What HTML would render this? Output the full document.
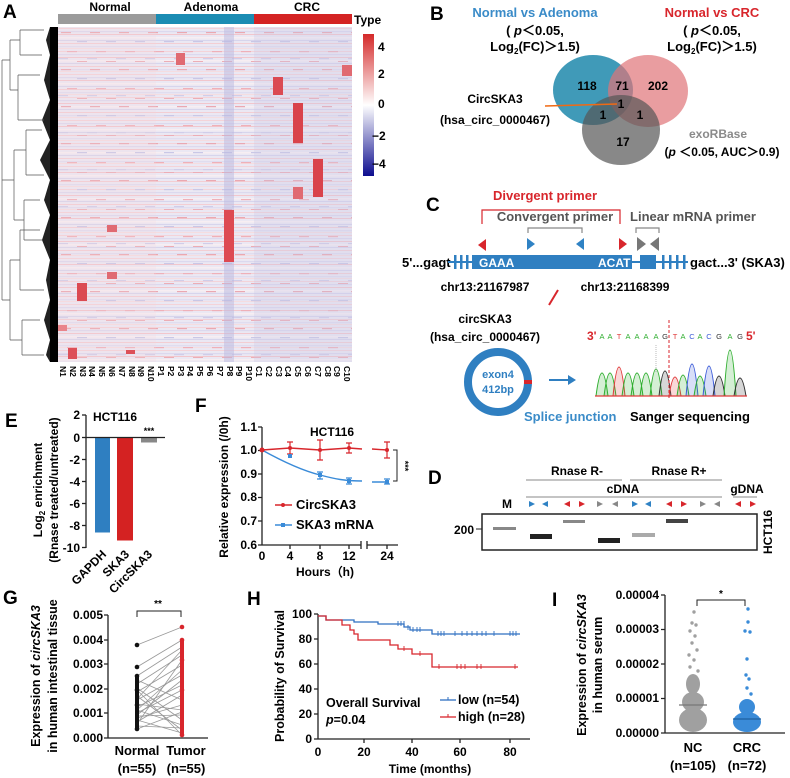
<!DOCTYPE html>
<html><head><meta charset="utf-8"><style>
body{margin:0;background:#fff}
svg{display:block;font-family:"Liberation Sans",Arial,sans-serif;font-weight:bold}
</style></head><body>
<svg width="790" height="778" viewBox="0 0 790 778" xmlns="http://www.w3.org/2000/svg">
<defs>
<pattern id="st1" width="294" height="23" patternUnits="userSpaceOnUse" x="58" y="27">
<rect width="294" height="23" fill="#ebe8f3"/>
<rect y="1" width="294" height="1" fill="#f4d3d8"/>
<rect y="4" width="294" height="1.2" fill="#dcd9ee"/>
<rect y="7" width="294" height="1" fill="#f2c6cc"/>
<rect y="10" width="294" height="1.5" fill="#f7eef2"/>
<rect y="13" width="294" height="1" fill="#d7d5ec"/>
<rect y="16" width="294" height="1" fill="#f3ced3"/>
<rect y="19" width="294" height="1.3" fill="#e0ddef"/>
<rect y="21" width="294" height="1" fill="#f5dde0"/>
</pattern>
<pattern id="st2" width="29" height="37" patternUnits="userSpaceOnUse" x="58" y="27">
<rect x="3" y="5" width="10" height="1.2" fill="#eaa8b1"/>
<rect x="19" y="14" width="10" height="1.2" fill="#c9c7e6"/>
<rect x="9" y="24" width="10" height="1.2" fill="#efb0b8"/>
<rect x="0" y="31" width="10" height="1.2" fill="#d0cde9"/>
<rect x="19" y="34" width="10" height="1" fill="#ecadb5"/>
</pattern>
</defs>

<!-- A heatmap -->
<text x="3" y="18" font-size="19">A</text>
<rect x="58" y="14" width="98" height="10" fill="#9b9b9b"/>
<rect x="156" y="14" width="98" height="10" fill="#1b8cb3"/>
<rect x="254" y="14" width="98" height="10" fill="#d42323"/>
<text x="110" y="11" font-size="12" text-anchor="middle">Normal</text>
<text x="211" y="11" font-size="12" text-anchor="middle">Adenoma</text>
<text x="307" y="11" font-size="12" text-anchor="middle">CRC</text>
<text x="354" y="24" font-size="12">Type</text>
<rect x="58" y="27" width="294" height="335" fill="url(#st1)"/>
<rect x="58" y="27" width="294" height="335" fill="url(#st2)"/>
<rect x="58" y="27" width="98" height="335" fill="#f4d6da" opacity="0.2"/>
<rect x="254" y="27" width="98" height="335" fill="#c9c6e6" opacity="0.3"/>
<rect x="224" y="27" width="10" height="335" fill="#b9b7df" opacity="0.5"/>
<rect x="224" y="210" width="10" height="52" fill="#dd4a52"/>
<rect x="176" y="53" width="9" height="12" fill="#e06a72"/>
<rect x="273" y="77" width="10" height="18" fill="#db4a52"/>
<rect x="293" y="103" width="10" height="40" fill="#d9434b"/>
<rect x="313" y="159" width="10" height="38" fill="#d9434b"/>
<rect x="293" y="187" width="10" height="12" fill="#e06a72"/>
<rect x="77" y="283" width="10" height="18" fill="#db4a52"/>
<rect x="107" y="272" width="10" height="7" fill="#e06a72"/>
<rect x="107" y="225" width="10" height="7" fill="#e06a72"/>
<rect x="342" y="65" width="10" height="11" fill="#e06a72"/>
<rect x="68" y="348" width="9" height="11" fill="#dd5058"/>
<rect x="58" y="325" width="9" height="6" fill="#e9848b"/>
<rect x="126" y="350" width="9" height="4" fill="#dd5058"/>
<!-- dendrogram -->
<rect x="50" y="27" width="8" height="335" fill="#000"/>
<path d="M50 27 L46 40 L50 55 L44 80 L50 100 L42 120 L50 140 L40 160 L50 180 L44 200 L50 215 L42 240 L50 260 L46 280 L50 300 L44 320 L50 340 L46 355 L50 362 Z" fill="#222"/>
<g stroke="#555" stroke-width="0.7" fill="none">
<path d="M2 60 V300 M2 60 H10 M2 300 H10 M10 40 V90 M10 40 H20 M10 90 H18 M10 260 V340 M10 260 H20 M10 340 H22 M20 30 V55 M18 75 V120 M20 230 V290 M22 320 V355 M14 150 V220 M2 180 H14 M14 150 H26 M14 220 H24 M26 130 V175 M24 200 V240"/>
<path d="M20 30 H44 M20 55 H42 M18 75 H40 M18 120 H44 M20 230 H40 M20 290 H44 M22 320 H40 M22 355 H44 M26 130 H42 M26 175 H44 M24 200 H40 M24 240 H42"/>
</g>
<g font-size="8.5" font-weight="bold">
<text transform="translate(60,366) rotate(90)">N1</text><text transform="translate(70,366) rotate(90)">N2</text><text transform="translate(80,366) rotate(90)">N3</text><text transform="translate(89,366) rotate(90)">N4</text><text transform="translate(99,366) rotate(90)">N5</text><text transform="translate(109,366) rotate(90)">N6</text><text transform="translate(119,366) rotate(90)">N7</text><text transform="translate(129,366) rotate(90)">N8</text><text transform="translate(138,366) rotate(90)">N9</text><text transform="translate(148,366) rotate(90)">N10</text>
<text transform="translate(158,366) rotate(90)">P1</text><text transform="translate(168,366) rotate(90)">P2</text><text transform="translate(178,366) rotate(90)">P3</text><text transform="translate(187,366) rotate(90)">P4</text><text transform="translate(197,366) rotate(90)">P5</text><text transform="translate(207,366) rotate(90)">P6</text><text transform="translate(217,366) rotate(90)">P7</text><text transform="translate(227,366) rotate(90)">P8</text><text transform="translate(236,366) rotate(90)">P9</text><text transform="translate(246,366) rotate(90)">P10</text>
<text transform="translate(256,366) rotate(90)">C1</text><text transform="translate(266,366) rotate(90)">C2</text><text transform="translate(276,366) rotate(90)">C3</text><text transform="translate(285,366) rotate(90)">C4</text><text transform="translate(295,366) rotate(90)">C5</text><text transform="translate(305,366) rotate(90)">C6</text><text transform="translate(315,366) rotate(90)">C7</text><text transform="translate(325,366) rotate(90)">C8</text><text transform="translate(334,366) rotate(90)">C9</text><text transform="translate(344,366) rotate(90)">C10</text>
</g>
<defs><linearGradient id="cb" x1="0" y1="0" x2="0" y2="1"><stop offset="0" stop-color="#d42a2a"/><stop offset="0.5" stop-color="#ffffff"/><stop offset="1" stop-color="#0d0d8f"/></linearGradient></defs>
<rect x="363" y="34" width="11" height="142" fill="url(#cb)"/>
<g font-size="12"><text x="378" y="51">4</text><text x="378" y="78">2</text><text x="378" y="108">0</text><text x="372" y="140">−2</text><text x="372" y="168">−4</text></g>

<!-- B venn -->
<text x="430" y="20" font-size="19">B</text>
<g font-size="13" text-anchor="middle">
<text x="535" y="17" fill="#3a8bc8">Normal vs Adenoma</text>
<text x="535" y="35">( <tspan font-style="italic">p</tspan>＜0.05,</text>
<text x="535" y="51">Log<tspan font-size="8" dy="3">2</tspan><tspan dy="-3">(FC)＞1.5)</tspan></text>
<text x="712" y="17" fill="#d8262c">Normal vs CRC</text>
<text x="712" y="35">( <tspan font-style="italic">p</tspan>＜0.05,</text>
<text x="712" y="51">Log<tspan font-size="8" dy="3">2</tspan><tspan dy="-3">(FC)＞1.5)</tspan></text>
</g>
<ellipse cx="593" cy="90" rx="40" ry="35" fill="#2b8fb0" opacity="0.9"/>
<ellipse cx="648" cy="91" rx="40" ry="36" fill="#e07378" opacity="0.7"/>
<ellipse cx="621" cy="130" rx="39" ry="35" fill="#555" opacity="0.7"/>
<g font-size="12" text-anchor="middle">
<text x="587" y="90">118</text><text x="622" y="90">71</text><text x="658" y="90">202</text>
<text x="621" y="108">1</text><text x="603" y="119">1</text><text x="640" y="119">1</text><text x="623" y="146">17</text>
<text x="495" y="103">CircSKA3</text><text x="495" y="124">(hsa_circ_0000467)</text>
<text x="718" y="138" fill="#8a8a8a">exoRBase</text>
<text x="722" y="156">(<tspan font-style="italic">p</tspan> ＜0.05, AUC＞0.9)</text>
</g>
<line x1="545" y1="106" x2="617" y2="104" stroke="#f06a14" stroke-width="1.5"/>

<!-- C -->
<text x="426" y="211" font-size="19">C</text>
<text x="545" y="200" font-size="13" fill="#d8262c" text-anchor="middle">Divergent primer</text>
<path d="M482 224 V210 H620 V224" stroke="#d8262c" fill="none" stroke-width="1.2"/>
<text x="555" y="221" font-size="13" fill="#555" text-anchor="middle">Convergent primer</text>
<text x="693" y="221" font-size="13" fill="#555" text-anchor="middle">Linear mRNA primer</text>
<path d="M528 233 V228 H582 V233 M636 233 V228 H659 V233" stroke="#888" fill="none" stroke-width="1.2"/>
<polygon points="478,245 486,239 486,251" fill="#d8262c"/>
<polygon points="527,238 535,244 527,250" fill="#2f82c4"/>
<polygon points="584,238 576,244 584,250" fill="#2f82c4"/>
<polygon points="619,238 627,244 619,250" fill="#d8262c"/>
<polygon points="637,237 646,244 637,251" fill="#777"/>
<polygon points="659,237 650,244 659,251" fill="#777"/>
<text x="402" y="267" font-size="13">5'...gagt</text>
<line x1="448" y1="262" x2="688" y2="262" stroke="#2f7fc1" stroke-width="2"/>
<g fill="#2f7fc1"><rect x="454" y="255" width="2.5" height="14"/><rect x="460" y="255" width="2.5" height="14"/><rect x="466" y="255" width="2.5" height="14"/>
<rect x="472" y="255" width="160" height="14"/><rect x="640" y="255" width="16" height="14"/>
<rect x="662" y="255" width="2.5" height="14"/><rect x="669" y="255" width="2.5" height="14"/><rect x="676" y="255" width="2.5" height="14"/><rect x="683" y="255" width="2.5" height="14"/></g>
<text x="479" y="267" font-size="12" fill="#fff">GAAA</text><text x="598" y="267" font-size="12" fill="#fff">ACAT</text>
<text x="690" y="267" font-size="13">gact...3' (SKA3)</text>
<text x="485" y="291" font-size="12" text-anchor="middle">chr13:21167987</text>
<text x="625" y="291" font-size="12" text-anchor="middle">chr13:21168399</text>
<line x1="558" y1="290" x2="549" y2="305" stroke="#d8262c" stroke-width="2"/>
<text x="485" y="323" font-size="12" text-anchor="middle">circSKA3</text>
<text x="485" y="341" font-size="12" text-anchor="middle">(hsa_circ_0000467)</text>
<text x="587" y="340" font-size="12" fill="#d8262c">3'</text>
<g font-size="7.5" font-weight="normal" text-anchor="middle">
<text x="602" y="339" fill="#2fae2f">A</text><text x="610" y="339" fill="#2fae2f">A</text><text x="619" y="339" fill="#e03a3a">T</text><text x="628" y="339" fill="#2fae2f">A</text><text x="637" y="339" fill="#2fae2f">A</text><text x="646" y="339" fill="#2fae2f">A</text><text x="656" y="339" fill="#2fae2f">A</text><text x="665" y="339" fill="#333">G</text><text x="675" y="339" fill="#e03a3a">T</text><text x="683" y="339" fill="#2fae2f">A</text><text x="692" y="339" fill="#3a5ad8">C</text><text x="700" y="339" fill="#2fae2f">A</text><text x="709" y="339" fill="#3a5ad8">C</text><text x="719" y="339" fill="#333">G</text><text x="730" y="339" fill="#2fae2f">A</text><text x="740" y="339" fill="#333">G</text></g>
<text x="746" y="340" font-size="12" fill="#d8262c">5'</text>
<circle cx="498" cy="382" r="30" fill="none" stroke="#2f7fc1" stroke-width="8"/>
<rect x="524" y="380" width="8" height="4" fill="#d8262c"/>
<text x="498" y="378" font-size="11" fill="#2f7fc1" text-anchor="middle">exon4</text>
<text x="498" y="393" font-size="11" fill="#2f7fc1" text-anchor="middle">412bp</text>
<line x1="549" y1="380" x2="570" y2="380" stroke="#2f7fc1" stroke-width="2"/><polygon points="576,380 568,375 568,385" fill="#2f7fc1"/>
<g stroke-width="1" fill-opacity="0.2">
<path d="M596 396 Q602 350 608 396" stroke="#2fae2f" fill="#2fae2f"/><path d="M604 396 Q610 350 616 396" stroke="#2fae2f" fill="#2fae2f"/><path d="M613 396 Q619 338 625 396" stroke="#e03a3a" fill="#e03a3a"/><path d="M622 396 Q628 350 634 396" stroke="#2fae2f" fill="#2fae2f"/><path d="M631 396 Q637 350 643 396" stroke="#2fae2f" fill="#2fae2f"/><path d="M640 396 Q646 350 652 396" stroke="#2fae2f" fill="#2fae2f"/><path d="M650 396 Q656 342 662 396" stroke="#2fae2f" fill="#2fae2f"/><path d="M659 396 Q665 346 671 396" stroke="#333" fill="#333"/><path d="M669 396 Q675 358 681 396" stroke="#e03a3a" fill="#e03a3a"/><path d="M677 396 Q683 354 689 396" stroke="#2fae2f" fill="#2fae2f"/><path d="M686 396 Q692 332 698 396" stroke="#3a5ad8" fill="#3a5ad8"/><path d="M694 396 Q700 356 706 396" stroke="#2fae2f" fill="#2fae2f"/><path d="M703 396 Q709 336 715 396" stroke="#3a5ad8" fill="#3a5ad8"/><path d="M713 396 Q719 356 725 396" stroke="#333" fill="#333"/><path d="M724 396 Q730 304 736 396" stroke="#2fae2f" fill="#2fae2f"/><path d="M734 396 Q740 360 746 396" stroke="#333" fill="#333"/></g>
<line x1="595" y1="396" x2="747" y2="396" stroke="#e03a3a" stroke-width="1.2"/>
<line x1="669" y1="320" x2="669" y2="400" stroke="#d8262c" stroke-width="1" stroke-dasharray="3,2"/>
<line x1="656" y1="345" x2="656" y2="372" stroke="#aaa" stroke-width="0.8" stroke-dasharray="1,1"/>
<text x="524" y="421" font-size="13" fill="#3a8bc8">Splice junction</text>
<text x="630" y="421" font-size="13">Sanger sequencing</text>

<!-- D gel -->
<text x="428" y="484" font-size="19">D</text>
<g font-size="12" text-anchor="middle">
<text x="577" y="475">Rnase R-</text><text x="679" y="475">Rnase R+</text>
<text x="623" y="493">cDNA</text><text x="747" y="493">gDNA</text><text x="507" y="508">M</text></g>
<g stroke="#888" stroke-width="1"><line x1="526" y1="480" x2="622" y2="480"/><line x1="630" y1="480" x2="722" y2="480"/><line x1="526" y1="497" x2="722" y2="497"/><line x1="733" y1="497" x2="757" y2="497"/></g>
<g>
<polygon points="529,501 535,504 529,507" fill="#2f82c4"/><polygon points="548,501 542,504 548,507" fill="#2f82c4"/>
<polygon points="570,501 564,504 570,507" fill="#d8262c"/><polygon points="579,501 585,504 579,507" fill="#d8262c"/>
<polygon points="597,501 603,504 597,507" fill="#888"/><polygon points="618,501 612,504 618,507" fill="#888"/>
<polygon points="632,501 638,504 632,507" fill="#2f82c4"/><polygon points="651,501 645,504 651,507" fill="#2f82c4"/>
<polygon points="672,501 666,504 672,507" fill="#d8262c"/><polygon points="681,501 687,504 681,507" fill="#d8262c"/>
<polygon points="700,501 706,504 700,507" fill="#888"/><polygon points="720,501 714,504 720,507" fill="#888"/>
<polygon points="741,501 735,504 741,507" fill="#d8262c"/><polygon points="750,501 756,504 750,507" fill="#d8262c"/></g>
<rect x="482" y="514" width="275" height="36" fill="#fff" stroke="#222" stroke-width="1.5"/>
<rect x="493" y="527" width="23" height="3" fill="#888"/>
<rect x="530" y="534" width="22" height="5" fill="#222"/>
<rect x="563" y="520" width="22" height="3" fill="#888"/>
<rect x="598" y="538" width="22" height="5" fill="#222"/>
<rect x="632" y="533" width="23" height="4" fill="#aaa"/>
<rect x="666" y="519" width="22" height="4" fill="#444"/>
<text x="474" y="534" font-size="12" text-anchor="end">200</text>
<line x1="476" y1="529" x2="482" y2="529" stroke="#222"/>
<text transform="translate(772,532) rotate(-90)" font-size="12" text-anchor="middle">HCT116</text>

<!-- E -->
<text x="5" y="427" font-size="19">E</text>
<text x="93" y="421" font-size="12">HCT116</text>
<text transform="translate(42,490) rotate(-90)" font-size="12" text-anchor="middle">Log<tspan font-size="8" dy="3">2</tspan><tspan dy="-3"> enrichment</tspan></text>
<text transform="translate(58,490) rotate(-90)" font-size="12" text-anchor="middle">(Rnase treated/untreated)</text>
<g font-size="12" text-anchor="end"><text x="80" y="419">2</text><text x="80" y="442">0</text><text x="80" y="464">-2</text><text x="80" y="486">-4</text><text x="80" y="508">-6</text><text x="80" y="530">-8</text><text x="80" y="552">-10</text></g>
<g stroke="#222" stroke-width="1.3" fill="none"><line x1="86" y1="415" x2="86" y2="548"/><line x1="82" y1="415" x2="86" y2="415"/><line x1="82" y1="437.5" x2="86" y2="437.5"/><line x1="82" y1="459.5" x2="86" y2="459.5"/><line x1="82" y1="481.5" x2="86" y2="481.5"/><line x1="82" y1="503.5" x2="86" y2="503.5"/><line x1="82" y1="525.5" x2="86" y2="525.5"/><line x1="82" y1="547.5" x2="86" y2="547.5"/></g>
<rect x="95" y="437.5" width="15" height="95" fill="#2f7fc1"/>
<rect x="117" y="437.5" width="16" height="103" fill="#d42222"/>
<rect x="141" y="437.5" width="16" height="5" fill="#888"/>
<line x1="86" y1="437.5" x2="165" y2="437.5" stroke="#222" stroke-width="1.3"/>
<text x="149" y="434" font-size="9" text-anchor="middle">***</text>
<g font-size="12"><text transform="translate(107,555) rotate(-45)" text-anchor="end">GAPDH</text><text transform="translate(130,555) rotate(-45)" text-anchor="end">SKA3</text><text transform="translate(153,555) rotate(-45)" text-anchor="end">CircSKA3</text></g>

<!-- F -->
<text x="195" y="412" font-size="19">F</text>
<text x="310" y="436" font-size="12">HCT116</text>
<text transform="translate(228,487) rotate(-90)" font-size="12" text-anchor="middle">Relative expression (/0h)</text>
<g font-size="12" text-anchor="end"><text x="257" y="431">1.1</text><text x="257" y="454">1.0</text><text x="257" y="478">0.9</text><text x="257" y="501">0.8</text><text x="257" y="525">0.7</text><text x="257" y="549">0.6</text></g>
<g stroke="#222" stroke-width="1.3" fill="none"><path d="M262 427 V545 H361 M367 545 H398 M262 427 H258 M262 450.5 H258 M262 474 H258 M262 497.5 H258 M262 521 H258 M262 545 H258 M290 545 V549 M320 545 V549 M349 545 V549 M387 545 V549 M361 541 V549 M367 541 V549"/></g>
<g font-size="12" text-anchor="middle"><text x="262" y="560">0</text><text x="290" y="560">4</text><text x="320" y="560">8</text><text x="349" y="560">12</text><text x="387" y="560">24</text><text x="325" y="576">Hours（h)</text></g>
<path d="M262 450 L290 448 L320 450 L349 448 L362 449 M372 449 L387 450" stroke="#d8262c" stroke-width="1.4" fill="none"/>
<path d="M262 450 C280 460 300 470 320 475 C335 479 345 481 362 481 M372 482 L387 482" stroke="#3a8bd8" stroke-width="1.4" fill="none"/>
<g stroke="#d8262c" stroke-width="1.2" fill="none"><path d="M290 442 V454 M287 442 H293 M287 454 H293 M320 440 V460 M317 440 H323 M317 460 H323 M349 443 V453 M346 443 H352 M346 453 H352 M387 442 V458 M384 442 H390 M384 458 H390"/></g>
<g stroke="#3a8bd8" stroke-width="1.2" fill="none"><path d="M320 472 V479 M317 472 H323 M317 479 H323 M349 478 V484 M346 478 H352 M346 484 H352 M387 479 V484 M384 479 H390 M384 484 H390"/></g>
<g fill="#d8262c"><circle cx="262" cy="450" r="2.5"/><circle cx="290" cy="448" r="2"/><circle cx="320" cy="450" r="2"/><circle cx="349" cy="448" r="2"/><circle cx="387" cy="450" r="2"/></g>
<g fill="#3a8bd8"><rect x="288" y="454" width="4" height="4"/><rect x="318" y="473" width="4" height="4"/><rect x="347" y="479" width="4" height="4"/><rect x="385" y="480" width="4" height="4"/></g>
<path d="M393 450 H397 V481 H393" stroke="#222" fill="none"/>
<text transform="translate(402,466) rotate(90)" font-size="9" text-anchor="middle">***</text>
<line x1="275" y1="505" x2="292" y2="505" stroke="#d8262c" stroke-width="1.4"/><circle cx="283" cy="505" r="2" fill="#d8262c"/>
<text x="296" y="509" font-size="13">CircSKA3</text>
<line x1="275" y1="525" x2="292" y2="525" stroke="#3a8bd8" stroke-width="1.4"/><rect x="281" y="523" width="4" height="4" fill="#3a8bd8"/>
<text x="296" y="529" font-size="13">SKA3 mRNA</text>

<!-- G -->
<text x="3" y="604" font-size="19">G</text>
<text transform="translate(40,676) rotate(-90)" font-size="12.5" text-anchor="middle">Expression of <tspan font-style="italic">circSKA3</tspan></text>
<text transform="translate(57,676) rotate(-90)" font-size="12.5" text-anchor="middle">in human intestinal tissue</text>
<g font-size="12" text-anchor="end"><text x="103" y="619">0.005</text><text x="103" y="644">0.004</text><text x="103" y="668">0.003</text><text x="103" y="693">0.002</text><text x="103" y="717">0.001</text><text x="103" y="742">0.000</text></g>
<g stroke="#222" stroke-width="1.3" fill="none"><path d="M108 615 V738 H208 M104 615 H108 M104 640 H108 M104 664 H108 M104 689 H108 M104 713 H108 M104 738 H108"/></g>
<path d="M137 617 V611 H181 V617" stroke="#222" fill="none"/><text x="158" y="607" font-size="10" text-anchor="middle">**</text>
<g stroke="#999" stroke-width="0.8">
<line x1="137" y1="645" x2="182" y2="627"/><line x1="137" y1="667" x2="182" y2="640"/><line x1="137" y1="676" x2="182" y2="647"/><line x1="137" y1="680" x2="182" y2="700"/><line x1="137" y1="684" x2="182" y2="655"/><line x1="137" y1="688" x2="182" y2="720"/><line x1="137" y1="692" x2="182" y2="665"/><line x1="137" y1="696" x2="182" y2="730"/><line x1="137" y1="700" x2="182" y2="675"/><line x1="137" y1="704" x2="182" y2="710"/><line x1="137" y1="707" x2="182" y2="685"/><line x1="137" y1="710" x2="182" y2="725"/><line x1="137" y1="713" x2="182" y2="690"/><line x1="137" y1="716" x2="182" y2="715"/><line x1="137" y1="718" x2="182" y2="705"/><line x1="137" y1="720" x2="182" y2="733"/><line x1="137" y1="722" x2="182" y2="695"/><line x1="137" y1="724" x2="182" y2="660"/><line x1="137" y1="726" x2="182" y2="728"/><line x1="137" y1="729" x2="182" y2="712"/><line x1="137" y1="699" x2="182" y2="650"/><line x1="137" y1="710" x2="182" y2="670"/><line x1="137" y1="690" x2="182" y2="735"/><line x1="137" y1="715" x2="182" y2="680"/>
</g>
<rect x="135" y="676" width="4" height="54" fill="#111"/>
<g fill="#111"><circle cx="137" cy="645" r="2.3"/><circle cx="137" cy="667" r="2.3"/><circle cx="137" cy="676" r="2.3"/><circle cx="137" cy="690" r="2.3"/><circle cx="137" cy="705" r="2.3"/><circle cx="137" cy="729" r="2.3"/></g>
<rect x="180" y="640" width="4" height="95" fill="#d8262c"/>
<g fill="#d8262c"><circle cx="182" cy="627" r="2.3"/><circle cx="182" cy="640" r="2.3"/><circle cx="182" cy="660" r="2.3"/><circle cx="182" cy="690" r="2.3"/><circle cx="182" cy="735" r="2.3"/></g>
<g font-size="13" text-anchor="middle"><text x="137" y="755">Normal</text><text x="137" y="773">(n=55)</text><text x="186" y="755">Tumor</text><text x="186" y="773">(n=55)</text></g>

<!-- H -->
<text x="247" y="605" font-size="19">H</text>
<text transform="translate(284,676) rotate(-90)" font-size="12.5" text-anchor="middle">Probability of Survival</text>
<g font-size="12" text-anchor="end"><text x="312" y="618">100</text><text x="312" y="643">80</text><text x="312" y="668">60</text><text x="312" y="693">40</text><text x="312" y="718">20</text><text x="312" y="743">0</text></g>
<g stroke="#222" stroke-width="1.3" fill="none"><path d="M318 614 V739 H530 M314 614 H318 M314 639 H318 M314 664 H318 M314 689 H318 M314 714 H318 M314 739 H318 M364 739 V743 M412 739 V743 M460 739 V743 M510 739 V743"/></g>
<g font-size="12" text-anchor="middle"><text x="318" y="756">0</text><text x="364" y="756">20</text><text x="412" y="756">40</text><text x="460" y="756">60</text><text x="510" y="756">80</text><text x="430" y="773">Time (months)</text></g>
<path d="M318 616 H326 V620 H354 V622 H378 V624 H404 V627 H410 V630 H432 V634 H520" stroke="#2f6fc1" stroke-width="1.3" fill="none"/>
<path d="M318 616 H326 V620 H342 V625 H350 V630 H354 V634 H358 V640 H390 V645 H398 V649 H412 V654 H432 V667 H518" stroke="#d8262c" stroke-width="1.3" fill="none"/>
<g stroke="#2f6fc1" stroke-width="0.9" fill="none"><path d="M398 621 V626 M401 621 V626 M404 621 V626 M408 625 V630 M413 627 V632 M417 627 V632 M420 627 V632 M438 631 V636 M441 631 V636 M444 631 V636 M455 631 V636 M462 631 V636 M467 631 V636 M472 631 V636 M477 631 V636 M482 631 V636 M486 631 V636 M494 631 V636 M510 631 V636 M513 631 V636 M516 631 V636"/></g>
<g stroke="#d8262c" stroke-width="0.9" fill="none"><path d="M404 646 V651 M420 651 V656 M439 664 V669 M457 664 V669 M461 664 V669 M465 664 V669 M477 664 V669 M481 664 V669 M515 664 V669"/></g>
<text x="326" y="707" font-size="12.5">Overall Survival</text>
<text x="326" y="724" font-size="12.5"><tspan font-style="italic">p</tspan>=0.04</text>
<line x1="440" y1="700" x2="456" y2="700" stroke="#2f6fc1" stroke-width="1.3"/><line x1="448" y1="697" x2="448" y2="700" stroke="#2f6fc1"/>
<text x="458" y="704" font-size="12.5">low (n=54)</text>
<line x1="440" y1="717" x2="456" y2="717" stroke="#d8262c" stroke-width="1.3"/><line x1="448" y1="714" x2="448" y2="717" stroke="#d8262c"/>
<text x="458" y="721" font-size="12.5">high (n=28)</text>

<!-- I -->
<text x="552" y="606" font-size="19">I</text>
<text transform="translate(586,665) rotate(-90)" font-size="12.5" text-anchor="middle">Expression of <tspan font-style="italic">circSKA3</tspan></text>
<text transform="translate(602,665) rotate(-90)" font-size="12.5" text-anchor="middle">in human serum</text>
<g font-size="12" text-anchor="end"><text x="659" y="599">0.00004</text><text x="659" y="633">0.00003</text><text x="659" y="668">0.00002</text><text x="659" y="702">0.00001</text><text x="659" y="737">0.00000</text></g>
<g stroke="#222" stroke-width="1.3" fill="none"><path d="M665 595 V733 H785 M661 595 H665 M661 629.5 H665 M661 664 H665 M661 698.5 H665 M661 733 H665"/></g>
<path d="M697 606 V600 H745 V606" stroke="#222" fill="none"/><text x="721" y="597" font-size="10" text-anchor="middle">*</text>
<g fill="#a0a0a0">
<ellipse cx="693" cy="720" rx="14" ry="12"/><ellipse cx="693" cy="702" rx="11" ry="10"/><ellipse cx="693" cy="684" rx="7" ry="10"/>
<circle cx="694" cy="612" r="1.7"/><circle cx="692" cy="623" r="1.7"/><circle cx="696" cy="625" r="1.7"/><circle cx="690" cy="631" r="1.7"/><circle cx="695" cy="636" r="1.7"/><circle cx="692" cy="643" r="1.7"/><circle cx="697" cy="650" r="1.7"/><circle cx="689" cy="655" r="1.7"/><circle cx="694" cy="660" r="1.7"/><circle cx="690" cy="667" r="1.7"/><circle cx="698" cy="671" r="1.7"/></g>
<line x1="679" y1="705" x2="707" y2="705" stroke="#777" stroke-width="1.3"/>
<g fill="#3a8bd8">
<ellipse cx="747" cy="722" rx="14" ry="10"/><ellipse cx="747" cy="707" rx="8" ry="8"/>
<circle cx="748" cy="609" r="1.7"/><circle cx="748" cy="622" r="1.7"/><circle cx="745" cy="631" r="1.7"/><circle cx="750" cy="632" r="1.7"/><circle cx="747" cy="659" r="1.7"/><circle cx="746" cy="675" r="1.7"/><circle cx="749" cy="679" r="1.7"/><circle cx="747" cy="688" r="1.7"/><circle cx="751" cy="694" r="1.7"/></g>
<line x1="733" y1="719" x2="761" y2="719" stroke="#1d5fa0" stroke-width="1.3"/>
<g font-size="13" text-anchor="middle"><text x="693" y="752">NC</text><text x="693" y="770">(n=105)</text><text x="747" y="752">CRC</text><text x="747" y="770">(n=72)</text></g>
</svg>
</body></html>
